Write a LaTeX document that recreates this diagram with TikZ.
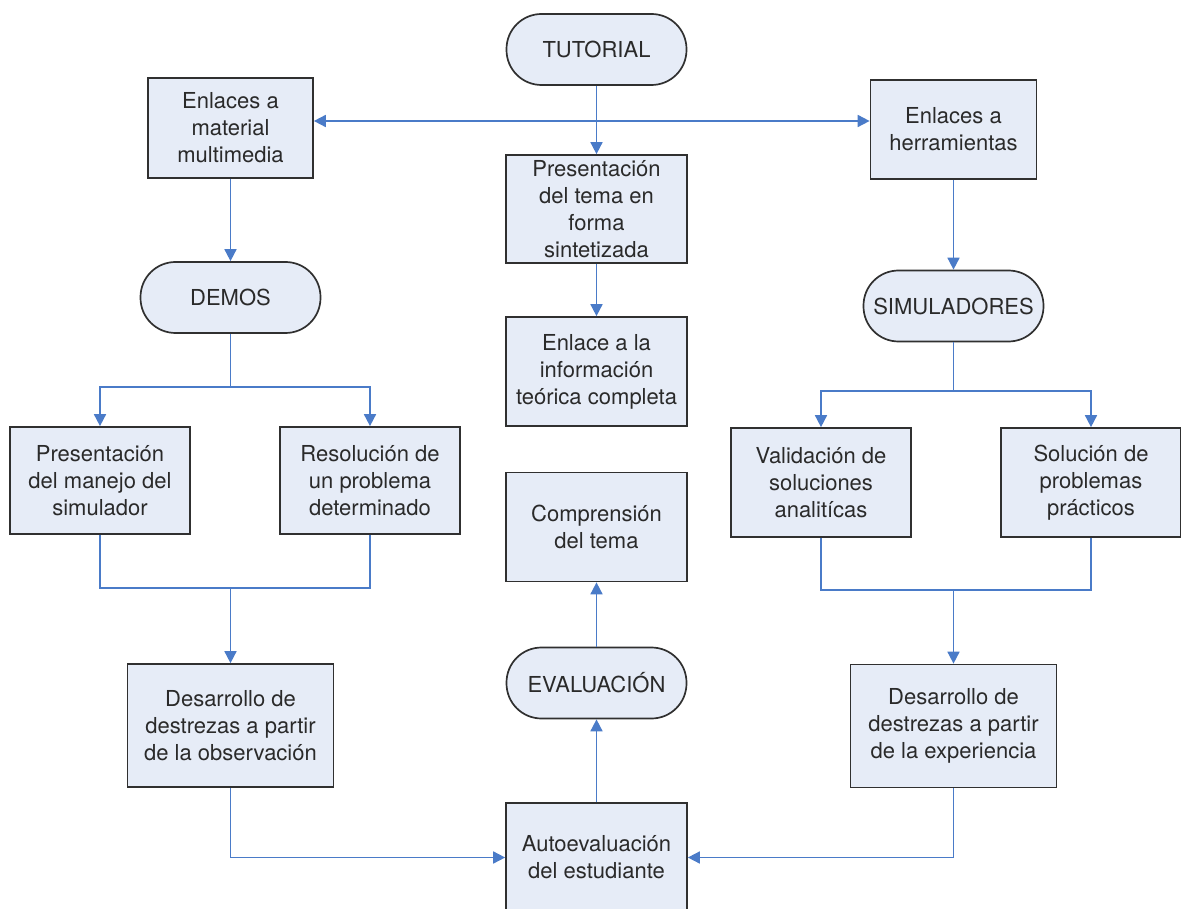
\documentclass[tikz,border=0pt]{standalone}
\usepackage{fontspec}
\setmainfont{TeX Gyre Heros}
\usetikzlibrary{arrows.meta,calc}

\definecolor{boxfill}{HTML}{E6ECF7}
\definecolor{boxline}{HTML}{303030}
\definecolor{txt}{HTML}{2A2A2A}
\definecolor{conn}{HTML}{4A7BC8}

\tikzset{
  base/.style={draw=boxline, line width=1.7pt, fill=boxfill, text=txt,
    align=center, inner sep=0pt,
    font=\fontsize{22}{27}\selectfont},
  stepbox/.style={base, rectangle, minimum width=#1},
  stepbox/.default=181pt,
  terminal/.style={base, rectangle, rounded corners=35pt,
    minimum width=180pt, minimum height=71pt},
  link/.style={draw=conn, line width=1.7pt},
  arr/.style={link, -{Triangle[length=12pt,width=12pt]}},
  biarr/.style={link, {Triangle[length=12pt,width=12pt]}-{Triangle[length=12pt,width=12pt]}}
}

\begin{document}
\begin{tikzpicture}[x=1pt,y=-1pt]
  \useasboundingbox[fill=white] (0,0) rectangle (1181,909);

  % central column
  \node[terminal] (tut) at (596.5,49.5) {TUTORIAL};
  \node[stepbox, minimum height=108pt] (pres) at (596.5,209)
    {Presentación\\del tema en\\forma\\sintetizada};
  \node[stepbox, minimum height=109pt] (enl) at (596.5,371.5)
    {Enlace a la\\información\\teórica completa};
  \node[stepbox, minimum height=109pt] (compr) at (596.5,527)
    {Comprensión\\del tema};
  \node[terminal] (eval) at (596.5,683) {EVALUACIÓN};
  \node[stepbox, minimum height=109pt] (auto) at (596.5,857.5)
    {Autoevaluación\\del estudiante};

  % left branch
  \node[stepbox=165pt, minimum height=100pt] (emat) at (230.5,128)
    {Enlaces a\\material\\multimedia};
  \node[terminal] (demos) at (230.5,297.5) {DEMOS};
  \node[stepbox=180pt, minimum height=107pt] (manejo) at (100,480.5)
    {Presentación\\del manejo del\\simulador};
  \node[stepbox=180pt, minimum height=107pt] (resol) at (370,480.5)
    {Resolución de\\un problema\\determinado};
  \node[stepbox=206pt, minimum height=123pt] (dobs) at (230.5,725.5)
    {Desarrollo de\\destrezas a partir\\de la observación};

  % right branch
  \node[stepbox=166pt, minimum height=99pt] (eher) at (953.5,129.5)
    {Enlaces a\\herramientas};
  \node[terminal] (simu) at (953.5,306) {SIMULADORES};
  \node[stepbox=180pt, minimum height=109pt] (valid) at (821,482.5)
    {Validación de\\soluciones\\analitícas};
  \node[stepbox=180pt, minimum height=109pt] (soluc) at (1091,482.5)
    {Solución de\\problemas\\prácticos};
  \node[stepbox=206pt, minimum height=123pt] (dexp) at (953.5,726)
    {Desarrollo de\\destrezas a partir\\de la experiencia};

  % helper coordinates for the horizontal runs
  \coordinate (hlink) at (0,121);
  \coordinate (lsplit) at (0,387);
  \coordinate (rsplit) at (0,391);
  \coordinate (ljoin) at (0,588);
  \coordinate (rjoin) at (0,590);

  % connectors, centre
  \draw[arr] (tut.south) -- (pres.north);
  \draw[arr] (pres.south) -- (enl.north);
  \draw[biarr] (emat.east |- hlink) -- (eher.west |- hlink);
  \draw[arr] (auto.north) -- (eval.south);
  \draw[arr] (eval.north) -- (compr.south);

  % connectors, left
  \draw[arr] (emat.south) -- (demos.north);
  \draw[link] (demos.south) -- (demos.south |- lsplit) coordinate (ls);
  \draw[arr] (ls) -| (manejo.north);
  \draw[arr] (ls) -| (resol.north);
  \draw[link] (manejo.south) |- (resol.south |- ljoin) -- (resol.south);
  \draw[arr] (dobs.north |- ljoin) -- (dobs.north);
  \draw[arr] (dobs.south) |- (auto.west);

  % connectors, right
  \draw[arr] (eher.south) -- (simu.north);
  \draw[link] (simu.south) -- (simu.south |- rsplit) coordinate (rs);
  \draw[arr] (rs) -| (valid.north);
  \draw[arr] (rs) -| (soluc.north);
  \draw[link] (valid.south) |- (soluc.south |- rjoin) -- (soluc.south);
  \draw[arr] (dexp.north |- rjoin) -- (dexp.north);
  \draw[arr] (dexp.south) |- (auto.east);
\end{tikzpicture}
\end{document}
